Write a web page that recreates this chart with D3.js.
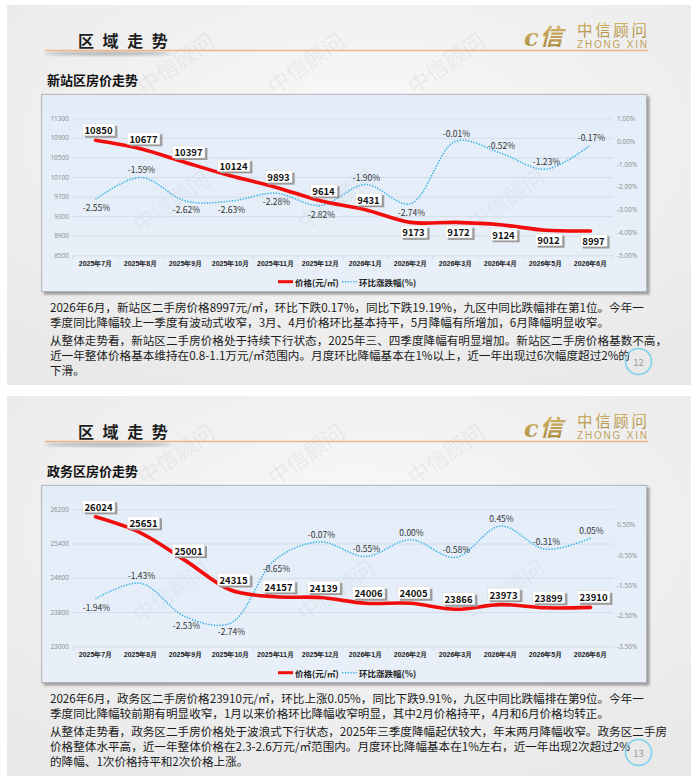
<!DOCTYPE html>
<html>
<head>
<meta charset="utf-8">
<script src="https://cdn.jsdelivr.net/npm/d3@7"></script>
<style>
body { margin: 0; background: #fff; }
svg { display: block; font-family: "Noto Sans CJK SC", "Noto Sans", sans-serif; }
</style>
</head>
<body>
<svg id="page" width="691" height="782"></svg>
<script>
// months on the x axis (both charts)
const months = ['2025年7月', '2025年8月', '2025年9月', '2025年10月', '2025年11月', '2025年12月',
  '2026年1月', '2026年2月', '2026年3月', '2026年4月', '2026年5月', '2026年6月'];

// 新站区
const xinzhanPrice = [10850, 10677, 10397, 10124, 9893, 9614, 9431, 9173, 9172, 9124, 9012, 8997];
const xinzhanPct = [-2.55, -1.59, -2.62, -2.63, -2.28, -2.82, -1.90, -2.74, -0.01, -0.52, -1.23, -0.17];
const xinzhanPriceTicks = [8500, 8900, 9300, 9700, 10100, 10500, 10900, 11300];
const xinzhanPctTicks = [-5, -4, -3, -2, -1, 0, 1];

// 政务区
const zhengwuPrice = [26024, 25651, 25001, 24315, 24157, 24139, 24006, 24005, 23866, 23973, 23899, 23910];
const zhengwuPct = [-1.94, -1.43, -2.53, -2.74, -0.65, -0.07, -0.55, 0.00, -0.58, 0.45, -0.31, 0.05];
const zhengwuPriceTicks = [23000, 23800, 24600, 25400, 26200];
const zhengwuPctTicks = [-3.5, -2.5, -1.5, -0.5, 0.5];

// which side the data labels sit on (1 = above, -1 = below)
const xinzhanPriceSide = [1, 1, 1, 1, 1, 1, 1, -1, -1, -1, -1, -1];
const xinzhanPctSide = [-1, 1, -1, -1, -1, -1, 1, -1, 1, 1, 1, 1];
const zhengwuPriceSide = [1, 1, 1, 1, 1, 1, 1, 1, 1, 1, 1, 1];
const zhengwuPctSide = [-1, 1, -1, -1, -1, 1, 1, 1, 1, 1, 1, 1];

const xinzhanText = [
  ['2026年6月，新站区二手房价格8997元/㎡，环比下跌0.17%，同比下跌19.19%，九区中同比跌幅排在第1位。今年一',
   '季度同比降幅较上一季度有波动式收窄，3月、4月价格环比基本持平，5月降幅有所增加，6月降幅明显收窄。'],
  ['从整体走势看，新站区二手房价格处于持续下行状态，2025年三、四季度降幅有明显增加。新站区二手房价格基数不高，',
   '近一年整体价格基本维持在0.8-1.1万元/㎡范围内。月度环比降幅基本在1%以上，近一年出现过6次幅度超过2%的',
   '下滑。']
];
const zhengwuText = [
  ['2026年6月，政务区二手房价格23910元/㎡，环比上涨0.05%，同比下跌9.91%，九区中同比跌幅排在第9位。今年一',
   '季度同比降幅较前期有明显收窄，1月以来价格环比降幅收窄明显，其中2月价格持平，4月和6月价格均转正。'],
  ['从整体走势看，政务区二手房价格处于波浪式下行状态，2025年三季度降幅起伏较大，年末两月降幅收窄。政务区二手房',
   '价格整体水平高，近一年整体价格在2.3-2.6万元/㎡范围内。月度环比降幅基本在1%左右，近一年出现2次超过2%',
   '的降幅、1次价格持平和2次价格上涨。']
];

const svg = d3.select('#page');
const defs = svg.append('defs');

const bg = defs.append('radialGradient').attr('id', 'slideBg')
  .attr('cx', '50%').attr('cy', '35%').attr('r', '75%');
bg.append('stop').attr('offset', '0%').attr('stop-color', '#f9f9f9');
bg.append('stop').attr('offset', '100%').attr('stop-color', '#e8e8e8');

const gold = defs.append('linearGradient').attr('id', 'gold')
  .attr('x1', 0).attr('y1', 0).attr('x2', 0).attr('y2', 1);
gold.append('stop').attr('offset', '0%').attr('stop-color', '#dcbc6e');
gold.append('stop').attr('offset', '100%').attr('stop-color', '#a6873c');

const plotBg = defs.append('linearGradient').attr('id', 'plotBg')
  .attr('x1', 0).attr('y1', 0).attr('x2', 0).attr('y2', 1);
plotBg.append('stop').attr('offset', '0%').attr('stop-color', '#e3edf9');
plotBg.append('stop').attr('offset', '100%').attr('stop-color', '#e8eff8');

defs.append('filter').attr('id', 'boxShadow').attr('x', '-5%').attr('y', '-5%').attr('width', '110%').attr('height', '115%')
  .append('feDropShadow').attr('dx', 2.5).attr('dy', 2.5).attr('stdDeviation', 1.2)
  .attr('flood-color', '#555').attr('flood-opacity', 0.55);
defs.append('filter').attr('id', 'soft')
  .append('feGaussianBlur').attr('stdDeviation', 1.6);

const bandLeft = 73, bandRight = 613, plotTop = 118.3, plotBottom = 255.3;

function drawSlide(offset, cfg) {
  const g = svg.append('g').attr('transform', `translate(0,${offset})`);

  g.append('rect').attr('x', 7).attr('y', 5).attr('width', 700).attr('height', 380)
    .attr('fill', 'url(#slideBg)');

  // watermarks (behind everything else on the slide)
  const wm = [[175, 62], [305, 62], [445, 62], [170, 200], [335, 198], [505, 198]];
  g.append('g').selectAll('text').data(wm).enter().append('text')
    .attr('transform', d => `translate(${d[0]},${d[1]}) rotate(-35)`)
    .attr('text-anchor', 'middle').attr('dominant-baseline', 'central')
    .attr('font-size', 22).attr('fill', '#7a7a7a').attr('opacity', 0.09)
    .text('中信顾问');

  // header
  g.append('ellipse').attr('cx', 108).attr('cy', 53.5).attr('rx', 64).attr('ry', 2.2)
    .attr('fill', '#8a8a8a').attr('opacity', 0.55).attr('filter', 'url(#soft)');
  g.append('line').attr('x1', 45).attr('x2', 648).attr('y1', 50.5).attr('y2', 50.5)
    .attr('stroke', '#efb589').attr('stroke-width', 1.4);
  g.append('text').attr('x', 78).attr('y', 47).text('区域走势')
    .attr('font-size', 16).attr('font-weight', 'bold').attr('letter-spacing', 8.6).attr('fill', '#1e1e1e');

  // logo
  const logo = g.append('g');
  logo.append('text').attr('x', 524).attr('y', 46).text('c')
    .attr('font-family', '"DejaVu Serif", serif').attr('font-style', 'italic').attr('font-weight', 'bold')
    .attr('font-size', 24).attr('fill', 'url(#gold)');
  logo.append('text').attr('x', 540).attr('y', 45).text('信')
    .attr('font-size', 23).attr('font-weight', 'bold').attr('fill', 'url(#gold)')
    .attr('transform', 'skewX(-14) translate(11,0)');
  logo.append('text').attr('x', 577).attr('y', 36).text('中信顾问')
    .attr('font-size', 15.5).attr('textLength', 70).attr('fill', 'url(#gold)');
  logo.append('text').attr('x', 577).attr('y', 47.5).text('ZHONG XIN')
    .attr('font-family', '"Liberation Sans", sans-serif').attr('font-size', 10)
    .attr('textLength', 70).attr('fill', '#c3a35c');

  g.append('text').attr('x', 47).attr('y', 84.5).text(cfg.subtitle)
    .attr('font-size', 13).attr('font-weight', 'bold').attr('fill', '#111');

  // chart box
  g.append('rect').attr('x', 41.7).attr('y', 94.3).attr('width', 605).attr('height', 197.4)
    .attr('fill', 'url(#plotBg)').attr('stroke', '#a5a5a5').attr('stroke-width', 0.8)
    .attr('filter', 'url(#boxShadow)');
  // faint watermarks show through the chart area too
  g.append('g').selectAll('text').data(wm.slice(3)).enter().append('text')
    .attr('transform', d => `translate(${d[0]},${d[1]}) rotate(-35)`)
    .attr('text-anchor', 'middle').attr('dominant-baseline', 'central')
    .attr('font-size', 22).attr('fill', '#7a7a7a').attr('opacity', 0.07)
    .text('中信顾问');

  const x = d3.scaleBand().domain(months).range([bandLeft, bandRight]);
  const cx = m => x(m) + x.bandwidth() / 2;
  const yL = d3.scaleLinear().domain(cfg.priceDomain).range([plotBottom, plotTop]);
  const yR = d3.scaleLinear().domain(cfg.pctDomain).range([plotBottom, plotTop]);

  const left = g.append('g').attr('transform', `translate(${bandLeft - 1},0)`)
    .call(d3.axisLeft(yL).tickValues(cfg.priceTicks).tickSize(-(bandRight - bandLeft + 1)).tickPadding(3).tickFormat(d3.format('d')));
  left.select('.domain').remove();
  left.selectAll('line').attr('stroke', '#cfd9e5').attr('stroke-width', 0.8);
  left.selectAll('text').attr('font-size', 6.5).attr('fill', '#8c8c8c').attr('font-family', '"Open Sans", sans-serif');

  const right = g.append('g').attr('transform', `translate(${bandRight},0)`)
    .call(d3.axisRight(yR).tickValues(cfg.pctTicks).tickSize(0).tickPadding(4).tickFormat(d => d.toFixed(2) + '%'));
  right.select('.domain').remove();
  right.selectAll('text').attr('font-size', 6.5).attr('fill', '#8c8c8c').attr('font-family', '"Open Sans", sans-serif');

  const bottom = g.append('g').attr('transform', `translate(0,${plotBottom})`)
    .call(d3.axisBottom(x).tickSize(0).tickPadding(6));
  bottom.select('.domain').remove();
  bottom.selectAll('text').attr('font-size', 7).attr('font-weight', 'bold').attr('fill', '#222');
  // small category separators
  bottom.selectAll('line.sep').data(months.concat([null])).enter().append('line')
    .attr('class', 'sep')
    .attr('x1', d => d ? x(d) : bandRight).attr('x2', d => d ? x(d) : bandRight)
    .attr('y1', 0).attr('y2', 4).attr('stroke', '#cfd9e5').attr('stroke-width', 0.8);

  const pctLine = d3.line().x((d, i) => cx(months[i])).y(d => yR(d)).curve(d3.curveCatmullRom.alpha(0.5));
  const priceLine = d3.line().x((d, i) => cx(months[i])).y(d => yL(d)).curve(d3.curveCatmullRom.alpha(0.5));

  g.append('path').datum(cfg.pct).attr('d', pctLine)
    .attr('fill', 'none').attr('stroke', '#3fb6e6').attr('stroke-width', 1.6).attr('stroke-dasharray', '1.4 1.4');
  g.append('path').datum(cfg.price).attr('d', priceLine)
    .attr('fill', 'none').attr('stroke', '#f20d0d').attr('stroke-width', 3.6).attr('stroke-linecap', 'round');

  // percentage labels
  g.append('g').selectAll('text').data(cfg.pct).enter().append('text')
    .attr('x', (d, i) => cx(months[i]) + 1)
    .attr('y', (d, i) => yR(d) - cfg.pctSide[i] * 8)
    .attr('dominant-baseline', 'central').attr('text-anchor', 'middle')
    .attr('font-size', 8.5).attr('fill', '#333')
    .text(d => d.toFixed(2) + '%');

  // price labels in boxes
  const pl = g.append('g').selectAll('g').data(cfg.price).enter().append('g')
    .attr('transform', (d, i) => `translate(${cx(months[i]) + 3},${yL(d) - cfg.priceSide[i] * 10})`);
  pl.append('rect').attr('class', 'sh');
  pl.append('rect').attr('class', 'bx');
  pl.append('text').attr('text-anchor', 'middle').attr('dominant-baseline', 'central')
    .attr('font-size', 9.5).attr('font-weight', 'bold').attr('fill', '#111').text(d => d);
  pl.each(function () {
    const s = d3.select(this);
    const bb = s.select('text').node().getBBox();
    s.select('rect.sh').attr('x', bb.x - 1).attr('y', -6).attr('width', bb.width + 4).attr('height', 12)
      .attr('fill', '#9b9b9b').attr('transform', 'translate(1.5,1.5)');
    s.select('rect.bx').attr('x', bb.x - 2).attr('y', -6.5).attr('width', bb.width + 4).attr('height', 12)
      .attr('fill', '#fff').attr('stroke', '#d5d5d5').attr('stroke-width', 0.5);
  });

  // legend
  const lg = g.append('g').attr('transform', 'translate(0,281.7)');
  lg.append('line').attr('x1', 278).attr('x2', 293).attr('stroke', '#f20d0d').attr('stroke-width', 3);
  lg.append('text').attr('x', 295).attr('dominant-baseline', 'central').attr('font-size', 8.5)
    .attr('font-weight', 'bold').attr('fill', '#222').text('价格(元/㎡)');
  lg.append('line').attr('x1', 342).attr('x2', 357).attr('stroke', '#3fb6e6').attr('stroke-width', 1.6)
    .attr('stroke-dasharray', '1.4 1.4');
  lg.append('text').attr('x', 359).attr('dominant-baseline', 'central').attr('font-size', 8.5)
    .attr('font-weight', 'bold').attr('fill', '#222').text('环比涨跌幅(%)');

  // commentary
  const lineYs = [[306.5, 321.5], [340, 355, 370]];
  cfg.text.forEach((para, p) => {
    para.forEach((ln, k) => {
      g.append('text').attr('x', 50).attr('y', lineYs[p][k]).attr('dominant-baseline', 'central')
        .attr('font-size', 11.6).attr('fill', '#1b1b1b').text(ln);
    });
  });

  // page number
  g.append('circle').attr('cx', 638.5).attr('cy', 361.5).attr('r', 13)
    .attr('fill', 'none').attr('stroke', '#7dd2f0').attr('stroke-width', 1.6);
  g.append('text').attr('x', 638.5).attr('y', 361.5).attr('text-anchor', 'middle').attr('dominant-baseline', 'central')
    .attr('font-size', 9.5).attr('fill', '#9a9a9a').text(cfg.page);
}

drawSlide(0, {
  subtitle: '新站区房价走势', price: xinzhanPrice, pct: xinzhanPct,
  priceDomain: [8500, 11300], pctDomain: [-5, 1],
  priceTicks: xinzhanPriceTicks, pctTicks: xinzhanPctTicks,
  priceSide: xinzhanPriceSide, pctSide: xinzhanPctSide,
  text: xinzhanText, page: '12'
});
drawSlide(391, {
  subtitle: '政务区房价走势', price: zhengwuPrice, pct: zhengwuPct,
  priceDomain: [23000, 26200], pctDomain: [-3.5, 1.0],
  priceTicks: zhengwuPriceTicks, pctTicks: zhengwuPctTicks,
  priceSide: zhengwuPriceSide, pctSide: zhengwuPctSide,
  text: zhengwuText, page: '13'
});
</script>
</body>
</html>
